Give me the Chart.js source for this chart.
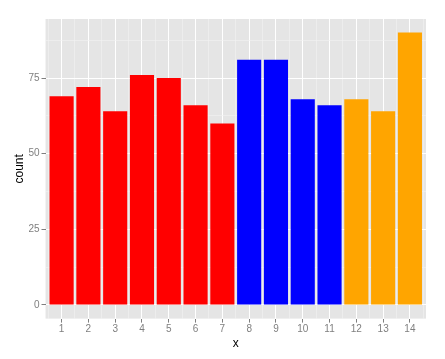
<!DOCTYPE html>
<html>
<head>
<meta charset="utf-8">
<script src="https://cdn.jsdelivr.net/npm/chart.js@4"></script>
<style>
  html, body { margin: 0; padding: 0; background: #fff; }
  #wrap { width: 445px; height: 359px; }
</style>
</head>
<body>
<div id="wrap"><canvas id="barChart" width="445" height="359"></canvas></div>
<script>
const xs = [1, 2, 3, 4, 5, 6, 7, 8, 9, 10, 11, 12, 13, 14];
const counts = [69, 72, 64, 76, 75, 66, 60, 81, 81, 68, 66, 68, 64, 90];
const groupColors = ["red", "red", "red", "red", "red", "red", "red",
  "blue", "blue", "blue", "blue", "orange", "orange", "orange"];
const colorMap = { red: "#FF0000", blue: "#0000FF", orange: "#FFA500" };

const isWhole = v => Math.abs(v - Math.round(v)) < 1e-6;
const isMajorY = v => Math.abs(v / 25 - Math.round(v / 25)) < 1e-6;
const tv = c => (c && c.tick) ? c.tick.value : 0;

// grey panel behind the plot, like ggplot's theme_grey
const panelBg = {
  id: "panelBg",
  beforeDraw(chart) {
    const a = chart.chartArea;
    const ctx = chart.ctx;
    ctx.save();
    ctx.fillStyle = "#E5E5E5";
    ctx.fillRect(a.left, a.top, a.right - a.left, a.bottom - a.top);
    ctx.restore();
  }
};

new Chart(document.getElementById("barChart"), {
  type: "bar",
  data: {
    datasets: [{
      data: xs.map((x, i) => ({ x: x, y: counts[i] })),
      backgroundColor: groupColors.map(c => colorMap[c]),
      borderWidth: 0,
      // ruler spacing is the 0.5 tick step, so 1.8 gives 0.9 of a unit
      barPercentage: 1.8,
      categoryPercentage: 1
    }]
  },
  options: {
    responsive: false,
    animation: false,
    layout: { padding: { top: 19, right: 19, left: 12, bottom: 8 } },
    plugins: { legend: { display: false }, tooltip: { enabled: false } },
    scales: {
      x: {
        type: "linear",
        min: 0.4,
        max: 14.6,
        offset: false,
        border: { display: false },
        grid: {
          offset: false,
          color: c => isWhole(tv(c)) ? "#FFFFFF" : "#F2F2F2",
          lineWidth: c => isWhole(tv(c)) ? 1 : 0.6,
          tickColor: c => isWhole(tv(c)) ? "#7F7F7F" : "rgba(0,0,0,0)",
          tickLength: 4
        },
        ticks: {
          stepSize: 0.5,
          includeBounds: false,
          autoSkip: false,
          maxRotation: 0,
          padding: 1,
          color: "#7F7F7F",
          font: { family: "Liberation Sans", size: 10 },
          callback: v => isWhole(v) ? String(v) : ""
        },
        title: {
          display: true,
          text: "x",
          color: "#000",
          padding: { top: 0, bottom: 0 },
          font: { family: "Liberation Sans", size: 12 }
        }
      },
      y: {
        min: -4.5,
        max: 94.5,
        border: { display: false },
        grid: {
          color: c => isMajorY(tv(c)) ? "#FFFFFF" : "#F2F2F2",
          lineWidth: c => isMajorY(tv(c)) ? 1 : 0.6,
          tickColor: c => isMajorY(tv(c)) ? "#7F7F7F" : "rgba(0,0,0,0)",
          tickLength: 4
        },
        ticks: {
          stepSize: 12.5,
          includeBounds: false,
          autoSkip: false,
          padding: 2,
          color: "#7F7F7F",
          font: { family: "Liberation Sans", size: 10 },
          callback: v => isMajorY(v) ? String(v) : ""
        },
        title: {
          display: true,
          text: "count",
          color: "#000",
          padding: { top: 0, bottom: 0 },
          font: { family: "Liberation Sans", size: 12 }
        }
      }
    }
  },
  plugins: [panelBg]
});
</script>
</body>
</html>
